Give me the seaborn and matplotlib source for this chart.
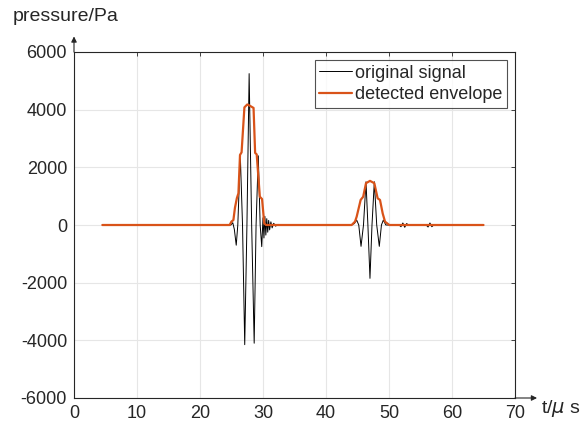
import matplotlib

matplotlib.use("Agg")
import matplotlib.pyplot as plt
import numpy as np
import pandas as pd
import seaborn as sns

# values (time in microseconds, pressure in Pa)
signal_t = [
    4.5, 24.9, 25.2, 25.45, 25.75, 26.0, 26.4, 26.75, 27.1, 27.45, 27.8, 28.2,
    28.6, 28.9, 29.25, 29.55, 29.8, 30.0, 30.15, 30.3, 30.45, 30.6, 30.75, 30.9,
    31.05, 31.25, 31.45, 31.7, 32.0, 32.4, 32.8,
    44.0, 44.5, 44.87, 45.2, 45.56, 45.95, 46.35, 46.65, 46.98, 47.3, 47.67,
    48.05, 48.46, 48.8, 49.1, 49.5, 51.6, 51.9, 52.2, 52.5, 52.8, 53.1,
    55.9, 56.2, 56.5, 56.8, 57.1, 65.0,
]
signal_p = [
    0, 0, 80, -150, -700, 0, 2400, 0, -4150, 0, 5250, 0,
    -4100, 0, 2400, 0, -750, 250, -450, 300, -350, 220, -250, 160,
    -170, 110, -100, 60, -40, 20, 0,
    0, 50, 170, 0, -740, 0, 1500, 0, -1850, 0, 1500,
    0, -740, 0, 170, 0, 0, -60, 70, -80, 50, 0,
    0, -70, 70, -60, 0, 0,
]
envelope_t = [
    4.5, 24.7, 25.0, 25.3, 25.55, 25.85, 26.1, 26.35, 26.6, 27.05, 27.5, 27.8,
    28.5, 28.75, 29.0, 29.5, 29.85, 30.2, 30.5,
    44.07, 44.6, 44.87, 45.5, 45.9, 46.35, 46.98, 47.67, 48.2, 48.57, 49.0,
    49.37, 50.05, 65.0,
]
envelope_p = [
    0, 0, 120, 170, 600, 930, 1100, 2430, 2520, 4080, 4180, 4150,
    4060, 2500, 2450, 980, 900, 50, 0,
    0, 115, 290, 870, 980, 1450, 1530, 1450, 925, 870, 400,
    115, 0, 0,
]
x_ticks = [0, 10, 20, 30, 40, 50, 60, 70]
y_ticks = [-6000, -4000, -2000, 0, 2000, 4000, 6000]

TEXT = "#262626"
ORANGE = "#D95319"

sns.set_style("whitegrid", {"grid.color": "#e6e6e6", "axes.edgecolor": TEXT})
plt.rcParams["font.family"] = ["Liberation Sans", "DejaVu Sans"]
plt.rcParams["mathtext.fontset"] = "dejavusans"
plt.rcParams["axes.unicode_minus"] = False

fig = plt.figure(figsize=(5.85, 4.29), dpi=100)
ax = fig.add_axes([74 / 585, 1 - 398 / 429, 441 / 585, 346 / 429])

sig = pd.DataFrame({"t": signal_t, "p": signal_p})
env = pd.DataFrame({"t": envelope_t, "p": envelope_p})
sns.lineplot(data=sig, x="t", y="p", sort=False, estimator=None, color="black",
             linewidth=0.7, label="original signal", ax=ax)
sns.lineplot(data=env, x="t", y="p", sort=False, estimator=None, color=ORANGE,
             linewidth=1.6, label="detected envelope", ax=ax)

ax.set_xlim(0, 70)
ax.set_ylim(-6000, 6000)
ax.set_xticks(x_ticks)
ax.set_yticks(y_ticks)
ax.set_xlabel("")
ax.set_ylabel("")
ax.grid(True, linewidth=0.8)
for side in ax.spines.values():
    side.set_visible(True)
    side.set_linewidth(0.8)
    side.set_color(TEXT)
ax.tick_params(direction="in", length=3, width=0.6, colors=TEXT, labelsize=13,
               pad=5, top=True, right=True, labeltop=False, labelright=False)

leg = ax.legend(loc="upper right", bbox_to_anchor=(0.9825, 0.9769), borderaxespad=0,
                fontsize=13, frameon=True, fancybox=False, handlelength=1.8,
                handletextpad=0.2, labelspacing=0.27, borderpad=0.25)
leg.get_frame().set_edgecolor(TEXT)
leg.get_frame().set_linewidth(0.8)
for text in leg.get_texts():
    text.set_color(TEXT)

# axis arrows
arrow = dict(arrowstyle="-|>", color=TEXT, lw=0.8, mutation_scale=8,
             shrinkA=0, shrinkB=0)
ax.annotate("", xy=(0, 1.045), xytext=(0, 1), xycoords="axes fraction",
            arrowprops=arrow, annotation_clip=False)
ax.annotate("", xy=(1.05, 0), xytext=(1, 0), xycoords="axes fraction",
            arrowprops=arrow, annotation_clip=False)

fig.text(13 / 585, 1 - 21 / 429, "pressure/Pa", fontsize=14, color=TEXT, va="baseline")
fig.text(541 / 585, 1 - 413 / 429, r"t/$\mu$ s", fontsize=14, color=TEXT, va="baseline")

fig.savefig("out.png", dpi=100)
